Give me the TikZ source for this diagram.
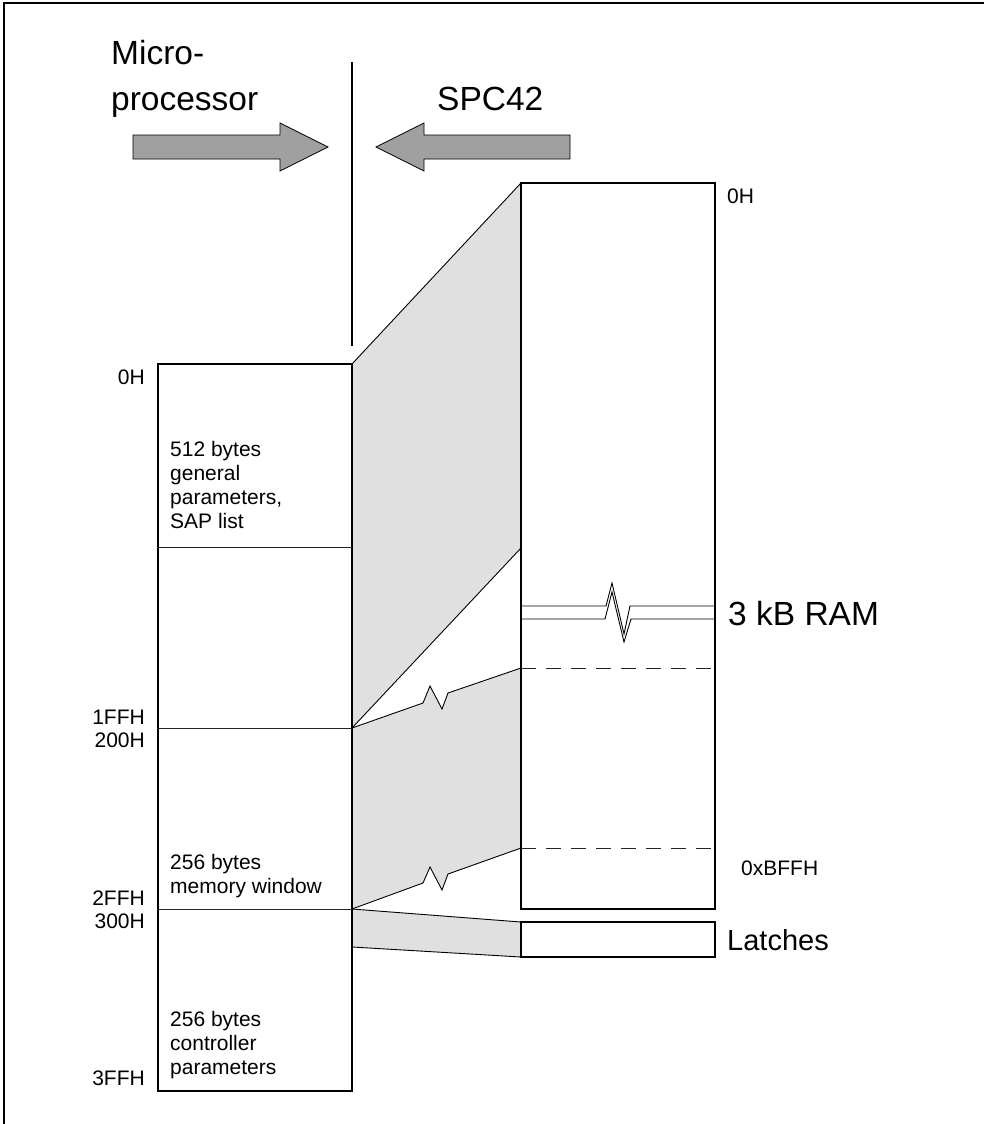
\documentclass[tikz,border=0pt]{standalone}
\usepackage{fontspec}
\setmainfont{Liberation Sans}
\definecolor{shadegray}{RGB}{224,224,224}
\definecolor{arrowgray}{RGB}{160,160,160}
\newcommand\bigtxt{\fontsize{33.5}{40}\selectfont}
\newcommand\midtxt{\fontsize{29}{34}\selectfont}
\newcommand\smalltxt{\fontsize{21}{24}\selectfont}
\begin{document}
\begin{tikzpicture}[x=1pt,y=-1pt,
  box/.style={draw=black, line width=1.4pt, inner sep=0pt, outer sep=0pt, anchor=north west},
  divider/.style={draw=black!85, line width=0.9pt},
  conn/.style={draw=black, line width=0.9pt},
  dashline/.style={draw=black!85, line width=0.9pt, dash pattern=on 15pt off 10pt},
  shadearea/.style={fill=shadegray},
  bigarrow/.style={fill=arrowgray, draw=black, line width=0.7pt},
  frameline/.style={draw=black, line width=2pt},
  addr/.style={font=\smalltxt, anchor=base east, inner sep=0pt},
  boxtext/.style={font=\smalltxt, anchor=base west, align=left, inner sep=0pt},
  bigtext/.style={font=\bigtxt, anchor=base west, inner sep=0pt}
]
\useasboundingbox (0,0) rectangle (984,1124);
% frame
\draw[frameline] (4,1124) -- (4,3) -- (984,3);

% named points
\coordinate (mpA) at (352,364);
\coordinate (mpB) at (352,728);
\coordinate (mpC) at (352,909);
\coordinate (mpD) at (352,947);
\coordinate (ramA) at (521,183);
\coordinate (ramB) at (521,548);
\coordinate (ramC) at (521,668);
\coordinate (ramD) at (521,848);
\coordinate (latA) at (521,922);
\coordinate (latB) at (521,957);

% shaded mapping areas
\fill[shadearea] (mpA) -- (ramA) -- (ramB) -- (mpB) -- cycle;
\fill[shadearea] (mpB) -- (423,703) -- (430,686) -- (442,709) -- (448,693) -- (ramC)
  -- (ramD) -- (448,874) -- (442,890) -- (430,867) -- (423,883) -- (mpC) -- cycle;
\fill[shadearea] (mpC) -- (latA) -- (latB) -- (mpD) -- cycle;

% boxes
\node[box, minimum width=194pt, minimum height=727pt] (mp) at (158,364) {};
\node[box, minimum width=194pt, minimum height=726pt] (ram) at (521,183) {};
\node[box, minimum width=194pt, minimum height=35pt] (latch) at (521,922) {};

% dividers
\draw[divider] (158,547) -- (352,547);
\draw[divider] (158,728) -- (352,728);
\draw[divider] (158,909) -- (352,909);
\draw[dashline] (521,668) -- (715,668);
\draw[dashline] (521,848) -- (715,848);

% break in RAM box
\draw[conn] (521,606) -- (606,606) -- (612,583) -- (624,634) -- (630,606) -- (715,606);
\draw[conn] (521,619) -- (605,619) -- (612,592) -- (624,642) -- (631,619) -- (715,619);

% mapping connectors
\draw[conn] (mpA) -- (ramA);
\draw[conn] (mpB) -- (ramB);
\draw[conn] (mpB) -- (423,703) -- (430,686) -- (442,709) -- (448,693) -- (ramC);
\draw[conn] (mpC) -- (423,883) -- (430,867) -- (442,890) -- (448,874) -- (ramD);
\draw[conn] (mpC) -- (latA);
\draw[conn] (mpD) -- (latB);

% separator
\draw[line width=2pt] (352,62) -- (352,346);

% arrows
\draw[bigarrow] (133,135) -- (280,135) -- (280,123) -- (328,147) -- (280,171) -- (280,159) -- (133,159) -- cycle;
\draw[bigarrow] (570,135) -- (424,135) -- (424,123) -- (376,147) -- (424,171) -- (424,159) -- (570,159) -- cycle;

% big labels
\node[bigtext] (mplabel) at (111,64) {Micro-};
\node[bigtext] (mplabel2) at (111,110) {processor};
\node[bigtext] (spclabel) at (437,110) {SPC42};
\node[bigtext] (ramlabel) at (728,625) {3 kB RAM};
\node[font=\midtxt, anchor=base west, inner sep=0pt] (latlabel) at (727,950) {Latches};

% address labels
\node[addr] (a0) at (145,384) {0H};
\node[addr] (a1) at (145,724) {1FFH};
\node[addr] (a2) at (145,747) {200H};
\node[addr] (a3) at (145,905) {2FFH};
\node[addr] (a4) at (145,928) {300H};
\node[addr] (a5) at (145,1085) {3FFH};
\node[font=\smalltxt, anchor=base west, inner sep=0pt] (r0) at (727,203) {0H};
\node[font=\smalltxt, anchor=base west, inner sep=0pt] (r1) at (741,875) {0xBFFH};

% box texts (base anchor = last line baseline)
\node[boxtext] (t1) at (170,528) {512 bytes\\general\\parameters,\\SAP list};
\node[boxtext] (t2) at (170,893) {256 bytes\\memory window};
\node[boxtext] (t3) at (170,1074) {256 bytes\\controller\\parameters};
\end{tikzpicture}
\end{document}
